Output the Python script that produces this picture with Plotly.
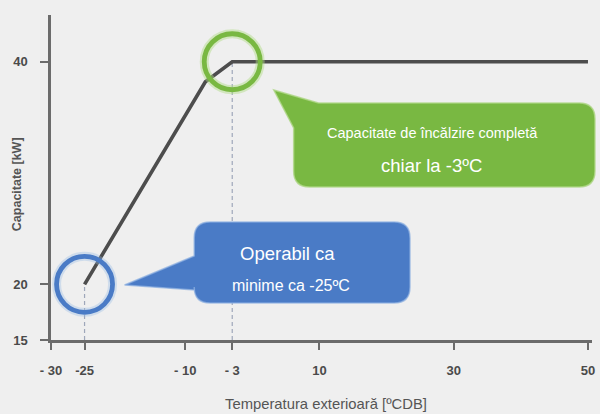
import plotly.graph_objects as go

# Heating capacity curve (kW) vs outdoor temperature (ºC DB)
temp = [-25, -7, -3, 50]
capacity = [20, 38.2, 40, 40]

x_ticks = [-30, -25, -10, -3, 10, 30, 50]
x_tick_text = ["- 30", "-25", "- 10", "- 3", "10", "30", "50"]
y_ticks = [15, 20, 40]

min_point = (-25, 20)    # lowest operating temperature
full_point = (-3, 40)    # full capacity reached

W, H = 600, 414
M_L, M_R, M_T, M_B = 51, 5, 15, 74
X_RANGE = [-30, 50.6]
Y_RANGE = [15, 44.2]

AXIS_COL = "#6b6b6b"
LINE_COL = "#4d4d4d"
BLUE = "#4a7bc6"
GREEN = "#79b842"
FONT = "Liberation Sans, Arial, sans-serif"

# pixel -> paper helpers for the callout decorations
P_L, P_R, P_T, P_B = M_L, W - M_R, M_T, H - M_B


def px(x):
    return (x - P_L) / (P_R - P_L)


def py(y):
    return (P_B - y) / (P_B - P_T)


def path_from(cmds):
    out = []
    for c in cmds:
        op, pts = c[0], c[1:]
        coords = " ".join(f"{px(a):.5f},{py(b):.5f}" for a, b in pts)
        out.append(f"{op}{coords}")
    return " ".join(out) + " Z"


def bubble(x0, y0, x1, y1, r, pointer):
    """Rounded box with a pointer given as (entry, tip, exit) pixel points on the left side."""
    a, tip, b = pointer
    return path_from([
        ("M", (x0 + r, y0)),
        ("L", (x1 - r, y0)),
        ("Q", (x1, y0), (x1, y0 + r)),
        ("L", (x1, y1 - r)),
        ("Q", (x1, y1), (x1 - r, y1)),
        ("L", (x0 + r, y1)),
        ("Q", (x0, y1), (x0, y1 - r)),
        ("L", a),
        ("L", tip),
        ("L", b),
        ("L", (x0, y0 + r)),
        ("Q", (x0, y0), (x0 + r, y0)),
    ])


def green_bubble(x0, y0, x1, y1, r, tip, top_pt, side_pt):
    return path_from([
        ("M", top_pt),
        ("L", (x1 - r, y0)),
        ("Q", (x1, y0), (x1, y0 + r)),
        ("L", (x1, y1 - r)),
        ("Q", (x1, y1), (x1 - r, y1)),
        ("L", (x0 + r, y1)),
        ("Q", (x0, y1), (x0, y1 - r)),
        ("L", side_pt),
        ("L", tip),
    ])


fig = go.Figure()

fig.add_trace(go.Scatter(
    x=temp, y=capacity, mode="lines",
    line=dict(color=LINE_COL, width=3.6),
    hoverinfo="skip", showlegend=False,
))

shapes = []

# dashed guides from the axis up to the two marked points
for (tx, ty) in (min_point, full_point):
    shapes.append(dict(
        type="line", xref="x", yref="y", x0=tx, x1=tx, y0=Y_RANGE[0], y1=ty,
        line=dict(color="#9ea7ba", width=1.2, dash="4px,3px"), layer="below",
    ))


def ring(pt, color, halo):
    out = []
    for w, c in ((9, halo), (4.8, color)):
        out.append(dict(
            type="circle", xref="x", yref="y",
            xsizemode="pixel", ysizemode="pixel",
            xanchor=pt[0], yanchor=pt[1],
            x0=-28, x1=28, y0=-28, y1=28,
            line=dict(color=c, width=w),
        ))
    return out


shapes += ring(min_point, BLUE, "rgba(150,185,230,0.35)")
shapes += ring(full_point, GREEN, "rgba(175,220,130,0.45)")

# callout bubbles
shapes.append(dict(
    type="path", xref="paper", yref="paper",
    path=bubble(195, 222, 412, 303, 16, ((195, 290), (125, 285), (195, 256))),
    fillcolor=BLUE, line=dict(color="rgba(140,175,225,0.7)", width=1.5),
))
shapes.append(dict(
    type="path", xref="paper", yref="paper",
    path=green_bubble(295, 103, 598, 187, 16, (275, 90), (320, 103), (295, 128)),
    fillcolor=GREEN, line=dict(color="rgba(175,215,135,0.8)", width=1.5),
))


def label(text, x, y, size, color="white", angle=0, weight="normal"):
    return dict(
        text=text, x=px(x), y=py(y), xref="paper", yref="paper",
        xanchor="center", yanchor="middle", textangle=angle, showarrow=False,
        font=dict(family=FONT, size=size, color=color, weight=weight),
    )


annotations = [
    label("Operabil ca", 289, 253, 18.5),
    label("minime ca -25ºC", 292, 285, 16),
    label("Capacitate de încălzire completă", 435, 133, 14.5),
    label("chiar la -3ºC", 434, 165, 18.5),
    label("Capacitate [kW]", 17, 184, 12.5, "#555555", -90, "bold"),
    label("Temperatura exterioară [ºCDB]", 328, 404, 14.8, "#555555"),
]

fig.update_layout(
    width=W, height=H,
    margin=dict(l=M_L, r=M_R, t=M_T, b=M_B, pad=0),
    paper_bgcolor="#efefef", plot_bgcolor="#efefef",
    shapes=shapes, annotations=annotations,
    showlegend=False,
    font=dict(family=FONT),
)

fig.update_xaxes(
    range=X_RANGE, showgrid=False, zeroline=False,
    showline=True, linecolor=AXIS_COL, linewidth=2.5,
    tickmode="array", tickvals=x_ticks, ticktext=x_tick_text,
    ticks="outside", ticklen=7, tickwidth=2, tickcolor=AXIS_COL,
    ticklabelstandoff=10, ticklabeloverflow="allow",
    tickfont=dict(family=FONT, size=13, color="#4a4a4a", weight="bold"),
)
fig.update_yaxes(
    range=Y_RANGE, showgrid=False, zeroline=False,
    showline=True, linecolor=AXIS_COL, linewidth=2.5,
    tickmode="array", tickvals=y_ticks,
    ticks="outside", ticklen=8, tickwidth=2, tickcolor=AXIS_COL,
    ticklabelstandoff=10,
    tickfont=dict(family=FONT, size=13, color="#4a4a4a", weight="bold"),
)

fig.write_html("out.html")
